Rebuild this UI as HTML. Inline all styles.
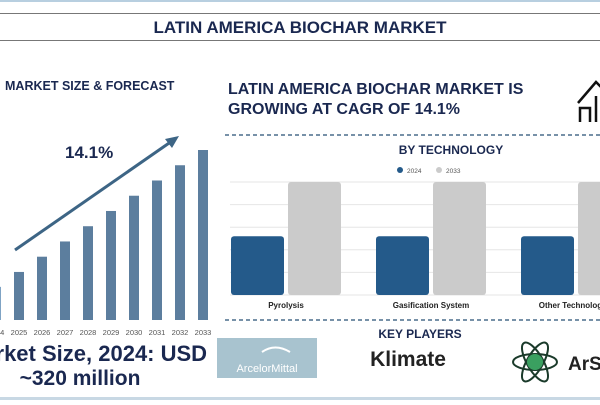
<!DOCTYPE html>
<html><head><meta charset="utf-8"><style>
body{margin:0;width:600px;height:400px;overflow:hidden;background:#fff;font-family:"Liberation Sans",sans-serif}
svg text{font-family:"Liberation Sans",sans-serif}
</style></head><body>
<svg id="s" width="600" height="400" viewBox="0 0 600 400">
<rect x="0" y="0" width="600" height="2" fill="#b8cfe0"/>
<line x1="0" y1="13.5" x2="600" y2="13.5" stroke="#777"/>
<line x1="0" y1="40.5" x2="600" y2="40.5" stroke="#777"/>
<text x="300" y="33" text-anchor="middle" font-size="17" font-weight="bold" fill="#1a2850">LATIN AMERICA BIOCHAR MARKET</text>
<text x="5" y="90" font-size="12.5" font-weight="bold" fill="#1a2850">MARKET SIZE &amp; FORECAST</text>
<g id="left"></g>
<text x="65" y="158" font-size="17" font-weight="bold" fill="#1a2850">14.1%</text>
<line x1="15" y1="250" x2="172" y2="141" stroke="#3d6585" stroke-width="3"/>
<polygon points="179,136 165,139 172,148" fill="#3d6585"/>
<text x="86" y="361" text-anchor="middle" font-size="22" font-weight="bold" fill="#1a2850">Market Size, 2024: USD</text>
<text x="80" y="385" text-anchor="middle" font-size="21" font-weight="bold" fill="#1a2850">~320 million</text>
<text x="228" y="94" font-size="16" font-weight="bold" fill="#1a2850">LATIN AMERICA BIOCHAR MARKET IS</text>
<text x="228" y="114" font-size="16" font-weight="bold" fill="#1a2850">GROWING AT CAGR OF 14.1%</text>
<g fill="none" stroke="#111" stroke-width="2.5">
<polyline points="578,103 596,82 606,92"/><polyline points="580,122 580,108 590,108 590,122"/><line x1="596" y1="96" x2="596" y2="122"/>
</g>
<line x1="225" y1="135" x2="600" y2="135" stroke="#4a6d8c" stroke-width="1.5" stroke-dasharray="4,3"/>
<text x="451" y="154" text-anchor="middle" font-size="12" font-weight="bold" fill="#1a2850">BY TECHNOLOGY</text>
<circle cx="400" cy="170" r="3" fill="#245a8a"/>
<text x="407" y="173" font-size="6.5" fill="#555">2024</text>
<circle cx="439" cy="170" r="3" fill="#cbcbcb"/>
<text x="446" y="173" font-size="6.5" fill="#555">2033</text>
<g id="right"></g>
<line x1="225" y1="320" x2="600" y2="320" stroke="#4a6d8c" stroke-width="1.5" stroke-dasharray="4,3"/>
<text x="420" y="338" text-anchor="middle" font-size="12" font-weight="bold" fill="#1a2850">KEY PLAYERS</text>
<rect x="217" y="338" width="100" height="40" fill="#a8c3cf"/>
<text x="267" y="372" text-anchor="middle" font-size="11" fill="#fff">ArcelorMittal</text>
<path d="M262 352 Q275 343 290 352" stroke="#fff" stroke-width="2" fill="none"/>
<text x="408" y="366" text-anchor="middle" font-size="21" font-weight="bold" fill="#222">Klimate</text>
<g fill="none" stroke="#1a3a2a" stroke-width="2">
<ellipse cx="535" cy="362" rx="22" ry="8"/><ellipse cx="535" cy="362" rx="22" ry="8" transform="rotate(60 535 362)"/><ellipse cx="535" cy="362" rx="22" ry="8" transform="rotate(-60 535 362)"/>
<circle cx="535" cy="362" r="8" fill="#3aa060" stroke="none"/>
</g>
<text x="568" y="370" font-size="19" font-weight="bold" fill="#222">ArSta</text>
<rect x="0" y="397" width="600" height="3" fill="#c8d8e4"/>
</svg>
<script>
const years=["2024","2025","2026","2027","2028","2029","2030","2031","2032","2033"];
const sizes=[320,365,411,457,503,549,595,641,687,733];
const techCats=["Pyrolysis","Gasification System","Other Technologies"];
const v2024=[52,52,52];
const v2033=[100,100,100];
const NS="http://www.w3.org/2000/svg";
function mk(t,a,p){const e=document.createElementNS(NS,t);for(const k in a)e.setAttribute(k,a[k]);p.appendChild(e);return e;}
const L=document.getElementById('left');
const lx=i=>1+i*23, ly=v=>320-(v-220)/(733-220)*170;
years.forEach((y,i)=>{
 const top=ly(sizes[i]);
 const r=mk('rect',{x:lx(i)-10,y:top,width:10,height:320-top,fill:i==0?'#7fa3c4':'#5c7e9e'},L);
 
 
 const t=mk('text',{x:lx(i)-5,y:335,'text-anchor':'middle','font-size':7.5,fill:'#555'},L);
 t.textContent=y;
 
 
});
const R=document.getElementById('right');
for(let k=0;k<6;k++){
 const g=mk('line',{x1:230,x2:600,y1:182+k*22.6,y2:182+k*22.6,stroke:'#e6e6e6'},R);
 
 
}
const by=v=>295-v/100*113;
techCats.forEach((c,i)=>{
 const x0=231+i*145;
 const a=mk('rect',{x:x0,y:by(v2024[i]),width:53,height:295-by(v2024[i]),rx:3,fill:'#245a8a'},R);
 
 
 const b=mk('rect',{x:x0+57,y:by(v2033[i]),width:53,height:295-by(v2033[i]),rx:3,fill:'#cbcbcb'},R);
 
 
 const t=mk('text',{x:x0+55,y:308,'text-anchor':'middle','font-size':8,'font-weight':'bold',fill:'#222'},R);
 t.textContent=c;
 
 
});
</script>
</body></html>
